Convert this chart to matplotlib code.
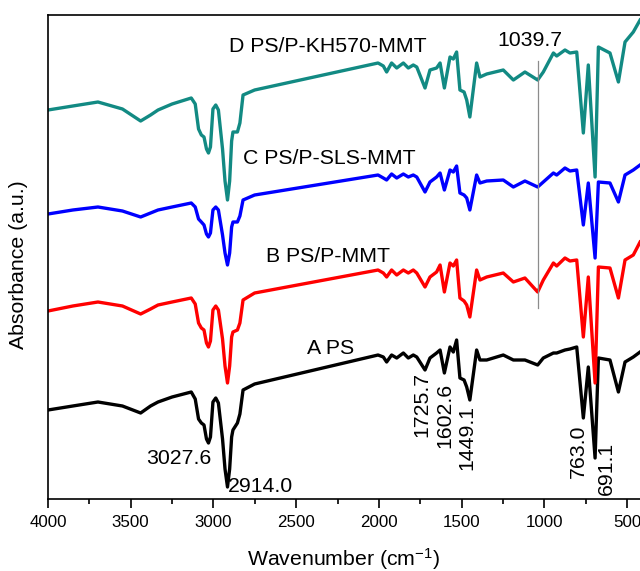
import matplotlib
matplotlib.use("Agg")
import matplotlib.pyplot as plt
from matplotlib.ticker import MultipleLocator

plt.rcParams['font.family'] = ['Liberation Sans', 'DejaVu Sans']
plt.rcParams['mathtext.default'] = 'regular'

# Wavenumber grid (cm^-1)
wavenumber = [4000, 3850, 3698, 3550, 3440, 3380, 3335, 3250, 3134, 3110, 3090, 3073,
              3057, 3042, 3030, 3018, 3003, 2986, 2970, 2945, 2930, 2915, 2902, 2890,
              2882, 2855, 2840, 2821, 2751, 2005, 1973, 1953, 1923, 1892, 1852, 1822,
              1792, 1771, 1721, 1691, 1651, 1630, 1604, 1570, 1550, 1530, 1510, 1485,
              1469, 1450, 1409, 1389, 1348, 1248, 1187, 1117, 1040, 1006, 945, 925,
              875, 845, 804, 764, 734, 693, 673, 603, 552, 512, 462, 421]

# Absorbance (offset, arbitrary units)
abs_A_PS = [89, 93, 97, 93, 86, 93, 97, 102, 107, 100, 80, 76,
            74, 60, 56, 62, 97, 101, 96, 60, 30, 12, 30, 62,
            69, 76, 85, 109, 115, 144, 142, 137, 144, 141, 146, 141,
            144, 142, 129, 141, 146, 149, 126, 152, 147, 159, 121, 119,
            112, 99, 149, 139, 139, 144, 139, 139, 134, 141, 146, 146,
            149, 150, 152, 81, 132, 41, 141, 139, 107, 137, 142, 147]

abs_B_PS_P_MMT = [188, 193, 197, 193, 185, 190, 194, 197, 201, 195, 176, 171,
                  169, 156, 152, 158, 189, 193, 189, 160, 133, 116, 133, 162,
                  167, 169, 176, 199, 206, 229, 226, 222, 229, 224, 229, 226,
                  229, 226, 212, 222, 227, 234, 207, 236, 233, 239, 201, 198,
                  194, 182, 229, 219, 222, 226, 217, 221, 207, 219, 236, 233,
                  241, 238, 239, 162, 222, 116, 232, 231, 201, 239, 244, 257]

abs_C_PS_P_SLS_MMT = [285, 289, 292, 288, 282, 286, 289, 292, 296, 292, 280, 277,
                      274, 265, 262, 266, 289, 292, 289, 264, 246, 234, 246, 272,
                      277, 277, 283, 299, 304, 324, 321, 319, 325, 321, 325, 322,
                      324, 322, 307, 317, 322, 326, 309, 329, 327, 333, 306, 304,
                      301, 289, 324, 316, 318, 319, 312, 318, 312, 317, 326, 324,
                      331, 328, 329, 274, 316, 241, 317, 316, 297, 324, 329, 334]

abs_D_PS_P_KH570_MMT = [389, 393, 397, 390, 378, 384, 389, 395, 401, 395, 370, 364,
                        362, 350, 346, 352, 390, 394, 389, 350, 318, 299, 318, 358,
                        367, 367, 376, 404, 409, 436, 433, 427, 436, 431, 436, 431,
                        434, 432, 411, 429, 431, 436, 411, 442, 440, 447, 409, 407,
                        399, 382, 436, 422, 425, 429, 419, 427, 419, 427, 446, 443,
                        449, 446, 447, 366, 434, 322, 452, 446, 417, 457, 467, 479]

series_labels = ["A PS", "B PS/P-MMT", "C PS/P-SLS-MMT", "D PS/P-KH570-MMT"]
series_colors = ["#000000", "#ff0000", "#0000ff", "#128a83"]

peak_labels = ["3027.6", "2914.0", "1725.7", "1602.6", "1449.1", "763.0", "691.1"]
marker_wavenumber = 1039.7
marker_label = "1039.7"

fig = plt.figure(figsize=(6.4, 5.71), dpi=100)
ax = fig.add_axes([48 / 640, 72 / 571, 592 / 640, 484 / 571])

for y, c in zip([abs_A_PS, abs_B_PS_P_MMT, abs_C_PS_P_SLS_MMT, abs_D_PS_P_KH570_MMT],
                series_colors):
    ax.plot(wavenumber, y, color=c, lw=2.4, solid_joinstyle='round')

# marker line at 1039.7
ax.plot([marker_wavenumber, marker_wavenumber], [191, 438], color='#8c8c8c', lw=0.9)

ax.set_xlim(4000, 421.5)
ax.set_ylim(0, 484)

fs_ann = 15.3
# series name labels
ax.text(2906, 452, series_labels[3], fontsize=fs_ann, ha='left', va='center')
ax.text(2821, 341, series_labels[2], fontsize=fs_ann, ha='left', va='center')
ax.text(2682, 242, series_labels[1], fontsize=fs_ann, ha='left', va='center')
ax.text(2434, 151, series_labels[0], fontsize=fs_ann, ha='left', va='center')
ax.text(1282, 458, marker_label, fontsize=fs_ann, ha='left', va='center')

# peak labels
ax.text(3408, 41, peak_labels[0], fontsize=fs_ann, ha='left', va='center')
ax.text(2912, 12, peak_labels[1], fontsize=fs_ann, ha='left', va='center')
rot_pos = [(1741, 95), (1600, 84), (1469, 62), (796, 48), (623, 31)]
for lab, (xw, yy) in zip(peak_labels[2:], rot_pos):
    ax.text(xw, yy, lab, fontsize=fs_ann, rotation=90, ha='center', va='center')

ax.xaxis.set_major_locator(MultipleLocator(500))
ax.xaxis.set_minor_locator(MultipleLocator(250))
ax.tick_params(axis='x', which='major', direction='out', length=6.5, width=1.2,
               labelsize=12.2, pad=5)
ax.tick_params(axis='x', which='minor', direction='out', length=3.6, width=1.2)
ax.set_yticks([])
ax.spines['right'].set_visible(False)
for s in ['left', 'bottom', 'top']:
    ax.spines[s].set_linewidth(1.2)

ax.set_xlabel('Wavenumber (cm$^{-1}$)', fontsize=15.3)
ax.xaxis.set_label_coords(0.5, -0.098)
ax.set_ylabel('Absorbance (a.u.)', fontsize=15.3)
ax.yaxis.set_label_coords(-0.034, 0.4835)

fig.savefig('out.png', dpi=100)
